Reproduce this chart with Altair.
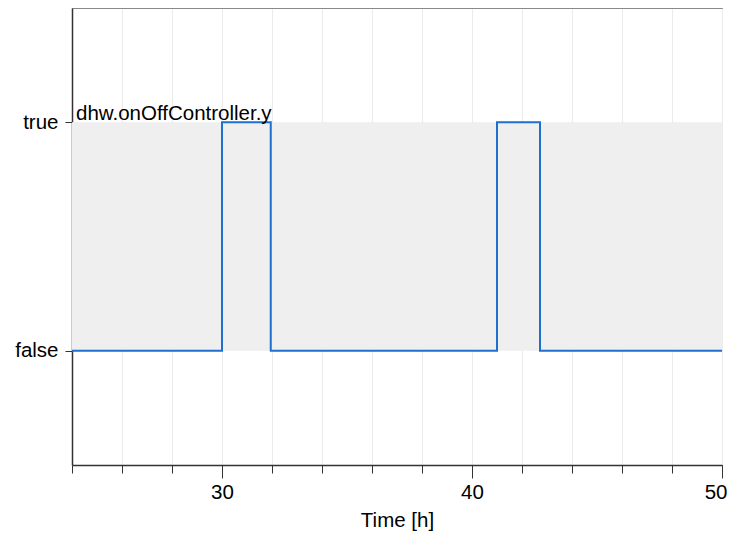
import altair as alt
import pandas as pd

# Data
times = [24, 30, 31.95, 41.0, 42.72, 50]
states = [0, 1, 0, 1, 0, 0]
band_x = [24]
band_x2 = [50]
band_y = [0]
band_y2 = [1]
minor_ticks = [24, 26, 28, 30, 32, 34, 36, 38, 40, 42, 44, 46, 48, 50]
major_ticks = [30, 40, 50]
series_label = "dhw.onOffController.y"

FONT = "Liberation Sans"
FS = 20.5

line_df = pd.DataFrame({"t": times, "v": states})
band_df = pd.DataFrame({"x": band_x, "x2": band_x2, "y": band_y, "y2": band_y2})
label_df = pd.DataFrame({"t": [24], "v": [1], "label": [series_label]})

xscale = alt.Scale(domain=[24, 50], nice=False, zero=False)
yscale = alt.Scale(domain=[-0.5, 1.5], nice=False, zero=False)

y_axis = alt.Axis(values=[0, 1], labelExpr="datum.value == 1 ? 'true' : 'false'",
                  title=None, grid=False, tickSize=7, labelPadding=7,
                  labelFontSize=FS, labelFont=FONT, labelColor="#000",
                  domainColor="#333", domainWidth=1.5, tickColor="#333")

band = alt.Chart(band_df).mark_rect(color="#efefef").encode(
    x=alt.X("x:Q", scale=xscale,
            axis=alt.Axis(values=minor_ticks, labels=False, title=None, grid=True,
                          gridColor="#ebebeb", tickSize=8, domainColor="#333",
                          domainWidth=1.5, tickColor="#333", orient="bottom")),
    x2="x2:Q",
    y=alt.Y("y:Q", scale=yscale, axis=y_axis),
    y2="y2:Q",
)

line = alt.Chart(line_df).mark_line(interpolate="step-after", color="#1f6fcf",
                                    strokeWidth=2).encode(
    x=alt.X("t:Q", scale=xscale,
            axis=alt.Axis(values=major_ticks, title="Time [h]", grid=False,
                          domain=False, tickSize=13, tickColor="#333",
                          labelFontSize=FS, labelFont=FONT, labelColor="#000",
                          labelFlush=True, labelFlushOffset=5, labelOverlap=False,
                          titleFontSize=FS, titleFont=FONT, titleFontWeight="normal",
                          titleColor="#000", labelPadding=4, titlePadding=8,
                          orient="bottom")),
    y=alt.Y("v:Q", scale=yscale, axis=y_axis),
)

text = alt.Chart(label_df).mark_text(align="left", baseline="alphabetic", dx=4, dy=-2,
                                     font=FONT, fontSize=FS, color="#000").encode(
    x=alt.X("t:Q", scale=xscale),
    y=alt.Y("v:Q", scale=yscale),
    text="label:N",
)

chart = alt.layer(band, line, text).resolve_axis(x="independent").properties(
    width=650, height=457,
    autosize=alt.AutoSizeParams(type="none"),
    padding={"left": 64, "top": 0, "right": 6, "bottom": 70},
).configure_view(stroke="#444", strokeWidth=2).configure(background="#fff")

chart.save("out.html", embed_options={"renderer": "svg", "actions": False})
